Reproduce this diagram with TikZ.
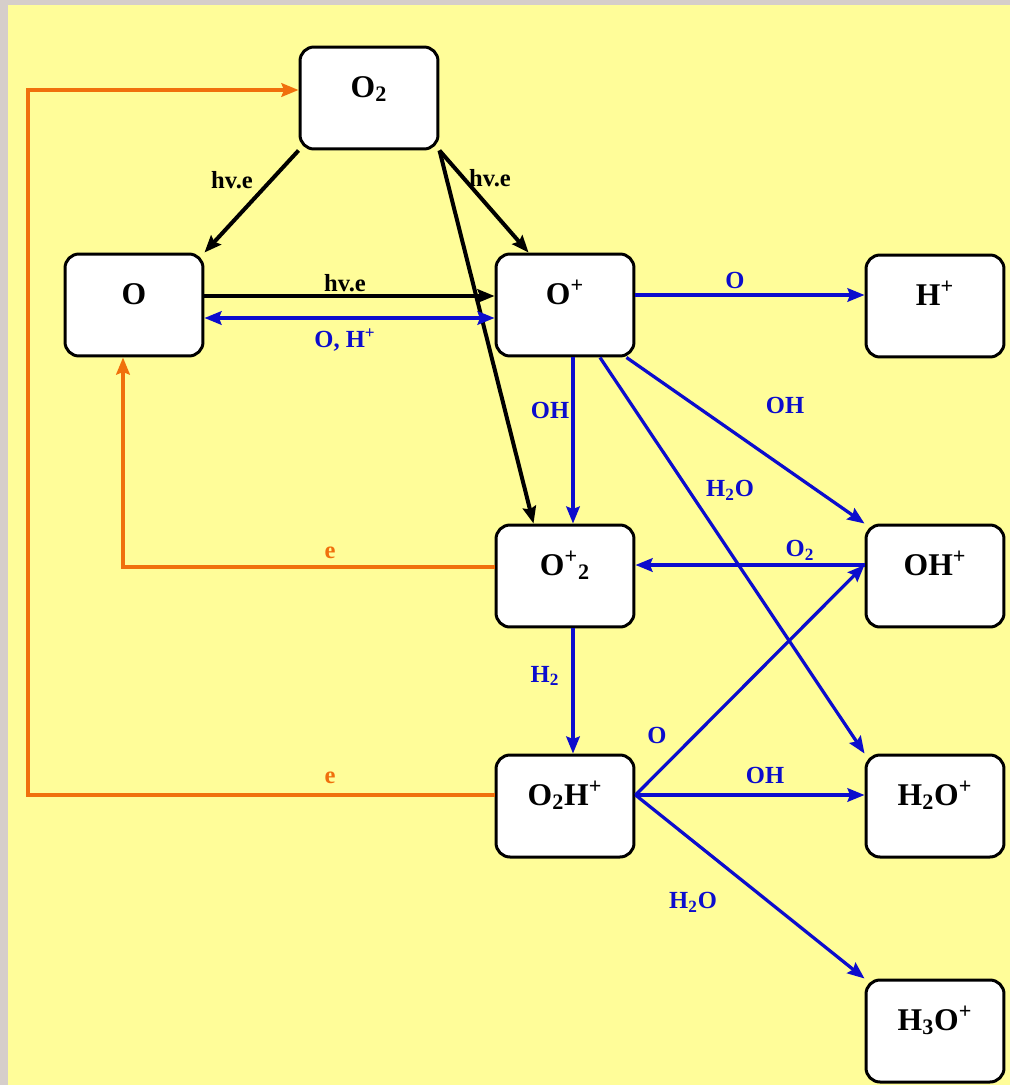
\documentclass[tikz,border=0pt]{standalone}
\usepackage{fontspec}
\setmainfont{Liberation Serif}
\usetikzlibrary{arrows.meta,calc}

\definecolor{bgyellow}{RGB}{255,253,153}
\definecolor{rim}{RGB}{214,206,202}
\definecolor{rxblue}{RGB}{12,12,205}
\definecolor{rxorange}{RGB}{240,112,12}

\begin{document}
\begin{tikzpicture}[
    x=0.02cm, y=-0.02cm,
    species/.style={rectangle, draw, fill=white, line width=0.06cm, rounded corners=0.28cm,
        minimum width=2.76cm, minimum height=2.04cm, text height=0.5cm, text depth=0.54cm,
        font=\fontsize{18}{20}\selectfont\bfseries},
    tag/.style={font=\fontsize{14}{16}\selectfont\bfseries, inner sep=1pt},
    tip/.style={-{Stealth[length=0.34cm,width=0.27cm,inset=0.05cm]}},
    photo/.style={draw=black, line width=0.08cm, tip},
    chem/.style={draw=rxblue, line width=0.065cm, tip},
    recomb/.style={draw=rxorange, line width=0.08cm, tip}
]
    % background
    \fill[rim] (0,0) rectangle (1010,1085);
    \fill[bgyellow] (8,5) rectangle (1010,1085);
    \useasboundingbox (0,0) rectangle (1010,1085);

    % species
    \node[species] (O2) at (369,98) {O\textsubscript{2}};
    \node[species] (O) at (134,305) {O};
    \node[species] (Op) at (565,305) {O\textsuperscript{+}};
    \node[species] (Hp) at (935,306) {H\textsuperscript{+}};
    \node[species] (O2p) at (565,576) {O\textsuperscript{+}\textsubscript{2}};
    \node[species] (OHp) at (935,576) {OH\textsuperscript{+}};
    \node[species] (O2Hp) at (565,806) {O\textsubscript{2}H\textsuperscript{+}};
    \node[species] (H2Op) at (935,806) {H\textsubscript{2}O\textsuperscript{+}};
    \node[species] (H3Op) at (935,1031) {H\textsubscript{3}O\textsuperscript{+}};

    % photo-ionisation / dissociation
    \draw[photo] (O2.south west) -- (O.north east);
    \draw[photo] (O2.south east) -- ($(Op.north west)+(34,0)$);
    \draw[photo] (O2.south east) -- ($(O2p.north west)+(39,0)$);
    \draw[photo] ($(O.east)+(0,-9)$) -- ($(Op.west)+(0,-9)$);
    \node[tag] (l1) at (232,180) {hv.e};
    \node[tag] (l2) at (490,178) {hv.e};
    \node[tag] (l3) at (345,283) {hv.e};

    % ion chemistry
    \draw[chem, {Stealth[length=0.34cm,width=0.27cm,inset=0.05cm]}-{Stealth[length=0.34cm,width=0.27cm,inset=0.05cm]}] ($(O.east)+(0,13)$) -- ($(Op.west)+(0,13)$);
    \draw[chem] ($(Op.east)+(0,-10)$) -- ($(Hp.west)+(0,-11)$);
    \draw[chem] ($(Op.south)+(8,0)$) -- ($(O2p.north)+(8,0)$);
    \draw[chem] ($(Op.south east)+(-9,0)$) -- (OHp.north west);
    \draw[chem] ($(Op.south)+(35,0)$) -- (H2Op.north west);
    \draw[chem] ($(OHp.west)+(0,-11)$) -- ($(O2p.east)+(0,-11)$);
    \draw[chem] ($(O2p.south)+(8,0)$) -- ($(O2Hp.north)+(8,0)$);
    \coordinate (fan) at ($(O2Hp.east)+(0,-11)$);
    \draw[chem] (fan) -- ($(OHp.west)+(0,-11)$);
    \draw[chem] (fan) -- ($(H2Op.west)+(0,-11)$);
    \draw[chem] (fan) -- (H3Op.north west);
    \node[tag, text=rxblue] (l4) at (345,340) {O, H\textsuperscript{+}};
    \node[tag, text=rxblue] (l5) at (735,280) {O};
    \node[tag, text=rxblue] (l6) at (550,410) {OH};
    \node[tag, text=rxblue] (l7) at (785,405) {OH};
    \node[tag, text=rxblue] (l8) at (730,490) {H\textsubscript{2}O};
    \node[tag, text=rxblue] (l9) at (800,550) {O\textsubscript{2}};
    \node[tag, text=rxblue] (l10) at (545,676) {H\textsubscript{2}};
    \node[tag, text=rxblue] (l11) at (657,735) {O};
    \node[tag, text=rxblue] (l12) at (765,775) {OH};
    \node[tag, text=rxblue] (l13) at (693,902) {H\textsubscript{2}O};

    % recombination
    \coordinate (rail) at (28,0);
    \coordinate (e1) at ($(O2p.west)+(0,-9)$);
    \coordinate (e2) at ($(O2Hp.west)+(0,-11)$);
    \draw[recomb] (e1) -| ($(O.south)+(-11,0)$);
    \draw[recomb] (e2) -- (e2 -| rail) |- ($(O2.west)+(0,-8)$);
    \node[tag, text=rxorange] (l14) at (330,553) {e};
    \node[tag, text=rxorange] (l15) at (330,778) {e};
\end{tikzpicture}
\end{document}
